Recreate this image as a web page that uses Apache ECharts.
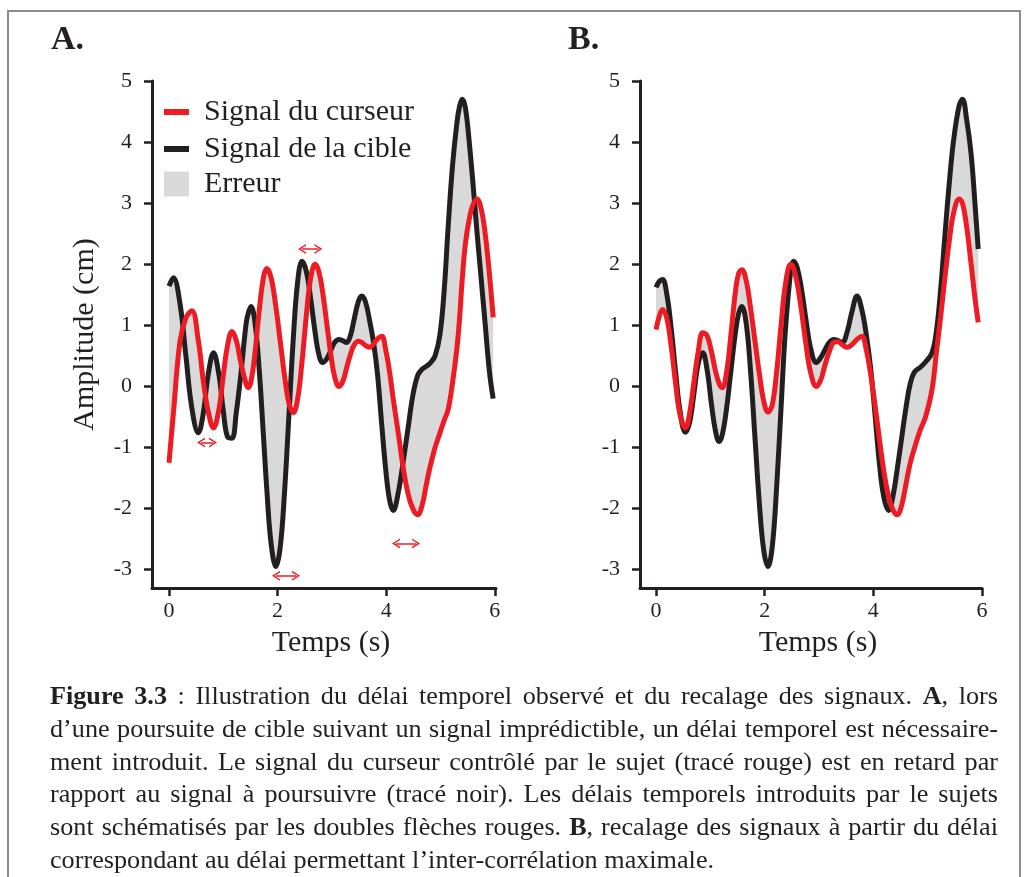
<!DOCTYPE html>
<html>
<head>
<meta charset="utf-8">
<script src="https://cdn.jsdelivr.net/npm/echarts@6/dist/echarts.min.js"></script>
<style>
  html, body { margin: 0; padding: 0; background: #fff; }
  #chart { position: absolute; left: 0; top: 0; width: 1029px; height: 877px; }
  #legende { position: absolute; left: 50px; top: 680px; width: 948px;
    font-family: 'Liberation Serif', 'Times New Roman', serif; font-size: 26.2px;
    line-height: 32.8px; color: #231f20; }
  #legende div { white-space: nowrap; text-align: justify; text-align-last: justify; }
  #legende div.fin { text-align-last: left; }
</style>
</head>
<body>
<div id="chart"></div>
<div id="legende">
  <div><b>Figure 3.3</b> : Illustration du délai temporel observé et du recalage des signaux. <b>A</b>, lors</div>
  <div>d’une poursuite de cible suivant un signal imprédictible, un délai temporel est nécessaire-</div>
  <div>ment introduit. Le signal du curseur contrôlé par le sujet (tracé rouge) est en retard par</div>
  <div>rapport au signal à poursuivre (tracé noir). Les délais temporels introduits par le sujets</div>
  <div>sont schématisés par les doubles flèches rouges. <b>B</b>, recalage des signaux à partir du délai</div>
  <div class="fin">correspondant au délai permettant l’inter-corrélation maximale.</div>
</div>
<script>
// temps (s) et amplitudes (cm)
var tempsA = [0, 0.08, 0.2, 0.31, 0.42, 0.54, 0.63, 0.72, 0.82, 0.92, 1.0, 1.08, 1.16, 1.24, 1.32, 1.42, 1.46, 1.51, 1.58, 1.66,
  1.74, 1.8, 1.88, 1.97, 2.05, 2.13, 2.21, 2.29, 2.37, 2.45, 2.53, 2.61, 2.69, 2.76, 2.83, 2.91, 2.98, 3.05, 3.13, 3.2,
  3.27, 3.34, 3.41, 3.49, 3.55, 3.62, 3.7, 3.77, 3.84, 3.92, 3.99, 4.06, 4.13, 4.22, 4.31, 4.4, 4.49, 4.58, 4.66, 4.74,
  4.81, 4.9, 4.99, 5.07, 5.14, 5.22, 5.3, 5.35, 5.4, 5.46, 5.54, 5.6, 5.67, 5.75, 5.82, 5.9, 5.97];
var cibleA = [1.64, 1.78, 1.37, 0.51, -0.35, -0.76, -0.45, 0.18, 0.55, 0.19, -0.4, -0.83, -0.85, -0.42, 0.17, 1.03, 1.2, 1.31, 1.07, 0.29,
  -0.82, -1.67, -2.57, -2.95, -2.62, -1.7, -0.45, 0.8, 1.72, 2.05, 1.88, 1.43, 0.89, 0.52, 0.39, 0.46, 0.59, 0.72, 0.77, 0.75,
  0.72, 0.83, 1.1, 1.4, 1.48, 1.38, 1.05, 0.7, 0.2, -0.65, -1.35, -1.85, -2.03, -1.75, -1.25, -0.7, -0.15, 0.18, 0.28, 0.33,
  0.38, 0.5, 0.85, 1.6, 2.6, 3.6, 4.3, 4.58, 4.7, 4.55, 3.9, 3.3, 2.55, 1.75, 1.05, 0.25, -0.2];
var curseurA = [-1.25, -0.45, 0.72, 1.12, 1.24, 0.75, 0.1, -0.4, -0.68, -0.37, 0.18, 0.68, 0.9, 0.75, 0.4, 0.04, -0.02, 0.08, 0.52, 1.23,
  1.79, 1.93, 1.78, 1.29, 0.73, 0.16, -0.28, -0.43, -0.2, 0.41, 1.17, 1.78, 2.0, 1.88, 1.54, 1.0, 0.52, 0.16, 0.0, 0.08,
  0.3, 0.52, 0.68, 0.74, 0.72, 0.67, 0.64, 0.7, 0.78, 0.82, 0.6, 0.25, -0.21, -0.75, -1.31, -1.75, -2.0, -2.1, -1.95, -1.6,
  -1.31, -1.0, -0.76, -0.55, -0.38, 0.05, 0.61, 1.1, 1.75, 2.35, 2.79, 2.98, 3.07, 2.9, 2.52, 1.85, 1.13];

var tempsB = [0, 0.06, 0.12, 0.2, 0.28, 0.36, 0.44, 0.54, 0.62, 0.7, 0.78, 0.86, 0.94, 1.02, 1.09, 1.16, 1.22, 1.3, 1.38, 1.46,
  1.52, 1.58, 1.66, 1.74, 1.82, 1.9, 1.98, 2.06, 2.14, 2.22, 2.3, 2.38, 2.48, 2.53, 2.6, 2.68, 2.76, 2.84, 2.95, 3.03,
  3.11, 3.19, 3.27, 3.35, 3.43, 3.52, 3.6, 3.7, 3.79, 3.87, 3.95, 4.03, 4.11, 4.19, 4.28, 4.36, 4.44, 4.52, 4.6, 4.68,
  4.76, 4.86, 4.96, 5.08, 5.16, 5.24, 5.32, 5.4, 5.48, 5.58, 5.64, 5.72, 5.8, 5.87, 5.93];
var cibleB = [1.62, 1.72, 1.75, 1.5, 0.94, 0.24, -0.39, -0.75, -0.58, -0.1, 0.39, 0.55, 0.27, -0.29, -0.71, -0.9, -0.79, -0.35, 0.27, 0.87,
  1.19, 1.31, 1.03, 0.25, -0.82, -1.89, -2.67, -2.95, -2.62, -1.65, -0.37, 0.9, 1.9, 2.05, 1.94, 1.58, 1.09, 0.65, 0.39, 0.47,
  0.6, 0.72, 0.77, 0.75, 0.72, 0.9, 1.2, 1.48, 1.25, 0.85, 0.3, -0.45, -1.25, -1.8, -2.03, -1.8, -1.35, -0.85, -0.35, 0.05,
  0.24, 0.31, 0.4, 0.55, 0.9, 1.6, 2.5, 3.35, 4.05, 4.6, 4.7, 4.35, 3.8, 3.0, 2.25];
var curseurB = [0.93, 1.15, 1.26, 1.11, 0.65, 0.05, -0.46, -0.68, -0.43, 0.09, 0.59, 0.88, 0.83, 0.57, 0.27, 0.05, -0.02, 0.24, 0.86, 1.54,
  1.85, 1.91, 1.73, 1.28, 0.75, 0.22, -0.23, -0.42, -0.3, 0.24, 0.99, 1.66, 2.0, 1.94, 1.68, 1.22, 0.69, 0.25, 0.0, 0.1,
  0.35, 0.57, 0.72, 0.73, 0.68, 0.64, 0.68, 0.77, 0.82, 0.6, 0.2, -0.3, -0.85, -1.37, -1.8, -2.02, -2.1, -1.95, -1.6, -1.25,
  -1.0, -0.72, -0.5, -0.05, 0.55, 1.15, 1.8, 2.4, 2.85, 3.07, 3.0, 2.6, 2.0, 1.45, 1.05];

// doubles flèches du panneau A : [début, fin, niveau]
var flechesA = [[0.59, 0.81, -0.92], [1.97, 2.34, -3.1], [2.45, 2.75, 2.25], [4.18, 4.55, -2.57]];

var ticksX = [0, 2, 4, 6];
var ticksY = [-3, -2, -1, 0, 1, 2, 3, 4, 5];

var serif = "'Liberation Serif', 'Times New Roman', serif";
var noir = '#231f20', rouge = '#ed1c24', gris = '#d9d9d9';
var chevron = 'path://M5,0L10,8L8.4,8L5,2.6L1.6,8L0,8Z';

function points(t, v) {
    return t.map(function (x, i) { return [x, v[i]]; });
}

function panneau(idx, t, cible, curseur, fleches) {
    var rougeSerie = {
        type: 'line', name: 'Signal du curseur', xAxisIndex: idx, yAxisIndex: idx,
        smooth: 0.4, symbol: 'none', silent: true, color: rouge,
        lineStyle: { color: rouge, width: 5 },
        data: points(t, curseur)
    };
    if (fleches) {
        rougeSerie.markLine = {
            silent: true, symbol: [chevron, chevron], symbolSize: [10, 8],
            label: { show: false },
            lineStyle: { color: rouge, width: 1.5, type: 'solid' },
            itemStyle: { color: rouge },
            data: fleches.map(function (f) {
                return [{ coord: [f[0], f[2]] }, { coord: [f[1], f[2]] }];
            })
        };
    }
    return [
        // zone d'erreur : polygone cible (aller) + curseur (retour)
        { type: 'custom', name: 'Erreur', xAxisIndex: idx, yAxisIndex: idx, silent: true,
          itemStyle: { color: gris }, data: [[t[0], cible[0]]],
          renderItem: function (params, api) {
              var pts = t.map(function (x, i) { return api.coord([x, cible[i]]); });
              for (var i = t.length - 1; i >= 0; i--) pts.push(api.coord([t[i], curseur[i]]));
              return { type: 'polygon', shape: { points: pts, smooth: 0 }, style: { fill: gris, stroke: null } };
          } },
        { type: 'line', name: 'Signal de la cible', xAxisIndex: idx, yAxisIndex: idx,
          smooth: 0.4, symbol: 'none', silent: true, color: noir,
          lineStyle: { color: noir, width: 5 }, data: points(t, cible) },
        rougeSerie
    ];
}

function axeX(idx, min, max) {
    return {
        type: 'value', gridIndex: idx, min: min, max: max,
        name: 'Temps (s)', nameLocation: 'middle', nameGap: 40,
        nameTextStyle: { fontFamily: serif, fontSize: 30, color: noir, padding: [0, 0, 0, 14] },
        axisLine: { onZero: false, lineStyle: { color: noir, width: 3 } },
        axisTick: { customValues: ticksX, length: 8, lineStyle: { color: noir, width: 2.5 } },
        axisLabel: { customValues: ticksX, margin: 12, fontFamily: serif, fontSize: 22, color: noir },
        splitLine: { show: false }
    };
}

function axeY(idx, nom) {
    return {
        type: 'value', gridIndex: idx, min: -3.3, max: 5,
        name: nom, nameLocation: 'middle', nameGap: 52,
        nameTextStyle: { fontFamily: serif, fontSize: 30, color: noir },
        axisLine: { onZero: false, lineStyle: { color: noir, width: 3 } },
        axisTick: { customValues: ticksY, length: 8, lineStyle: { color: noir, width: 2.5 } },
        axisLabel: { customValues: ticksY, margin: 20, fontFamily: serif, fontSize: 22, color: noir },
        splitLine: { show: false }
    };
}

function legende(nom, haut, h) {
    return {
        data: [nom], left: 164, top: haut, padding: 0, icon: 'rect',
        itemWidth: 25, itemHeight: h, selectedMode: false,
        textStyle: { fontFamily: serif, fontSize: 30, lineHeight: 30, color: noir, padding: [0, 0, 0, 10] }
    };
}

var chart = echarts.init(document.getElementById('chart'));
chart.setOption({
    animation: false,
    backgroundColor: '#fff',
    grid: [
        { left: 152, top: 81, width: 344, height: 507 },
        { left: 640, top: 81, width: 342, height: 507 }
    ],
    xAxis: [axeX(0, -0.313, 6.022), axeX(1, -0.295, 6.0)],
    yAxis: [axeY(0, 'Amplitude (cm)'), axeY(1, '')],
    legend: [
        legende('Signal du curseur', 97, 6),
        legende('Signal de la cible', 134, 6),
        legende('Erreur', 169, 25)
    ],
    graphic: [
        { type: 'rect', silent: true, shape: { x: 8, y: 11, width: 1012, height: 900 },
          style: { fill: 'none', stroke: '#8c8c8c', lineWidth: 2 } },
        { type: 'text', x: 51, y: 40, style: { text: 'A.', fontFamily: serif, fontSize: 34, fontWeight: 'bold', fill: noir, verticalAlign: 'middle' } },
        { type: 'text', x: 568, y: 40, style: { text: 'B.', fontFamily: serif, fontSize: 34, fontWeight: 'bold', fill: noir, verticalAlign: 'middle' } }
    ],
    series: panneau(0, tempsA, cibleA, curseurA, flechesA)
        .concat(panneau(1, tempsB, cibleB, curseurB, null))
});
</script>
</body>
</html>
